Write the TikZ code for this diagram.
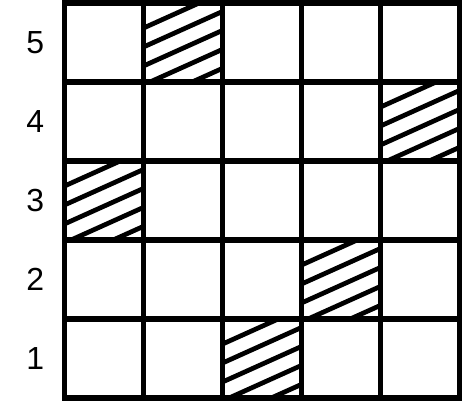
\documentclass[tikz,border=0pt]{standalone}
\usepackage{fontspec}
\setmainfont{Liberation Sans}
\tikzset{
  gridline/.style={line width=2pt, color=black, line cap=rect},
  hatchline/.style={line width=1.7pt, color=black},
  rowlabel/.style={font=\fontsize{11.5}{13}\selectfont, inner sep=0pt}
}
\begin{document}
\begin{tikzpicture}
  \useasboundingbox (-0.816,-0.035) rectangle (5.057,5.035);

  % Hatched cells (column/row)
  \foreach \c/\r in {2/5, 5/4, 1/3, 4/2, 3/1} {
    \begin{scope}
      \clip (\c-1,\r-1) rectangle (\c,\r);
      \foreach \k in {0,...,4}
        \draw[hatchline] (\c-1,\r-1+0.68-0.24*\k) -- ++(1,0.45);
    \end{scope}
  }

  % Grid
  \draw[gridline] (0,0) grid (5,5);

  % Row labels
  \foreach \r in {1,...,5}
    \node[rowlabel] (lab\r) at (-0.37,\r-0.5) {\r};
\end{tikzpicture}
\end{document}
